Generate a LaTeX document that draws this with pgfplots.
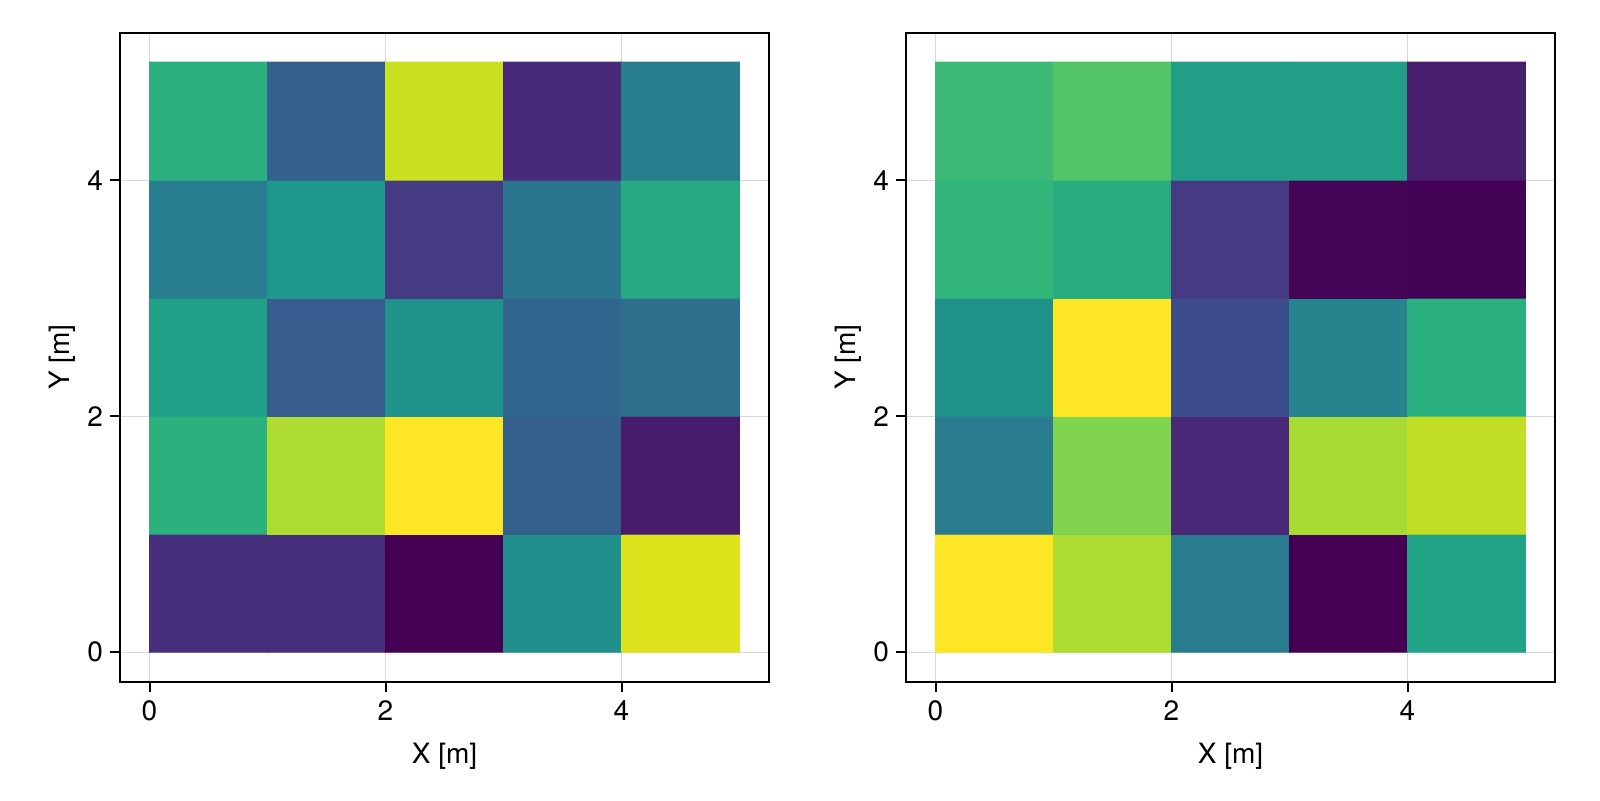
\documentclass[border=0pt]{standalone}
\usepackage{pgfplots}
\pgfplotsset{compat=1.18}
\usepackage{fontspec}
\setmainfont{TeX Gyre Heros}
\pgfplotstableread{
x y c
0.5 0.5 0.13
1.5 0.5 0.13
2.5 0.5 0.0
3.5 0.5 0.50
4.5 0.5 0.95
0.5 1.5 0.64
1.5 1.5 0.88
2.5 1.5 1.0
3.5 1.5 0.30
4.5 1.5 0.07
0.5 2.5 0.57
1.5 2.5 0.29
2.5 2.5 0.51
3.5 2.5 0.33
4.5 2.5 0.37
0.5 3.5 0.42
1.5 3.5 0.53
2.5 3.5 0.17
3.5 3.5 0.39
4.5 3.5 0.61
0.5 4.5 0.63
1.5 4.5 0.30
2.5 4.5 0.92
3.5 4.5 0.12
4.5 4.5 0.42
}\leftdata
\pgfplotstableread{
x y c
0.5 0.5 1.0
1.5 0.5 0.88
2.5 0.5 0.41
3.5 0.5 0.0
4.5 0.5 0.58
0.5 1.5 0.41
1.5 1.5 0.81
2.5 1.5 0.11
3.5 1.5 0.87
4.5 1.5 0.91
0.5 2.5 0.51
1.5 2.5 1.0
2.5 2.5 0.23
3.5 2.5 0.45
4.5 2.5 0.63
0.5 3.5 0.66
1.5 3.5 0.62
2.5 3.5 0.17
3.5 3.5 0.01
4.5 3.5 0.005
0.5 4.5 0.68
1.5 4.5 0.73
2.5 4.5 0.56
3.5 4.5 0.56
4.5 4.5 0.08
}\rightdata
\pgfplotsset{
  hm/.style={
    scale only axis, width=324.5pt, height=324.5pt,
    anchor=south west,
    xmin=-0.25, xmax=5.25, ymin=-0.25, ymax=5.25,
    xtick={0,2,4}, ytick={0,2,4},
    tick align=outside, tick pos=left,
    major tick length=5pt,
    every tick/.style={black, line width=1pt},
    axis line style={line width=1pt},
    grid=major, major grid style={black!15, line width=0.5pt},
    colormap name=viridis,
    point meta min=0, point meta max=1,
    /pgf/number format/assume math mode=true,
    tick label style={font=\fontsize{14}{16}\selectfont},
    label style={font=\fontsize{14}{16}\selectfont},
    xlabel={X [m]}, ylabel={Y [m]},
    xticklabel style={yshift=-1pt},
    xlabel style={yshift=-4pt},
    ylabel style={yshift=-1pt},
  }
}
\begin{document}
\begin{tikzpicture}[x=1pt,y=1pt]
\useasboundingbox (0,0) rectangle (800,400);
\begin{axis}[hm, at={(60pt,59.2pt)}]
\addplot[matrix plot*, mesh/cols=5, point meta=explicit] table[x=x,y=y,meta=c] {\leftdata};
\end{axis}
\begin{axis}[hm, at={(453pt,59.2pt)}]
\addplot[matrix plot*, mesh/cols=5, point meta=explicit] table[x=x,y=y,meta=c] {\rightdata};
\end{axis}
\end{tikzpicture}
\end{document}
